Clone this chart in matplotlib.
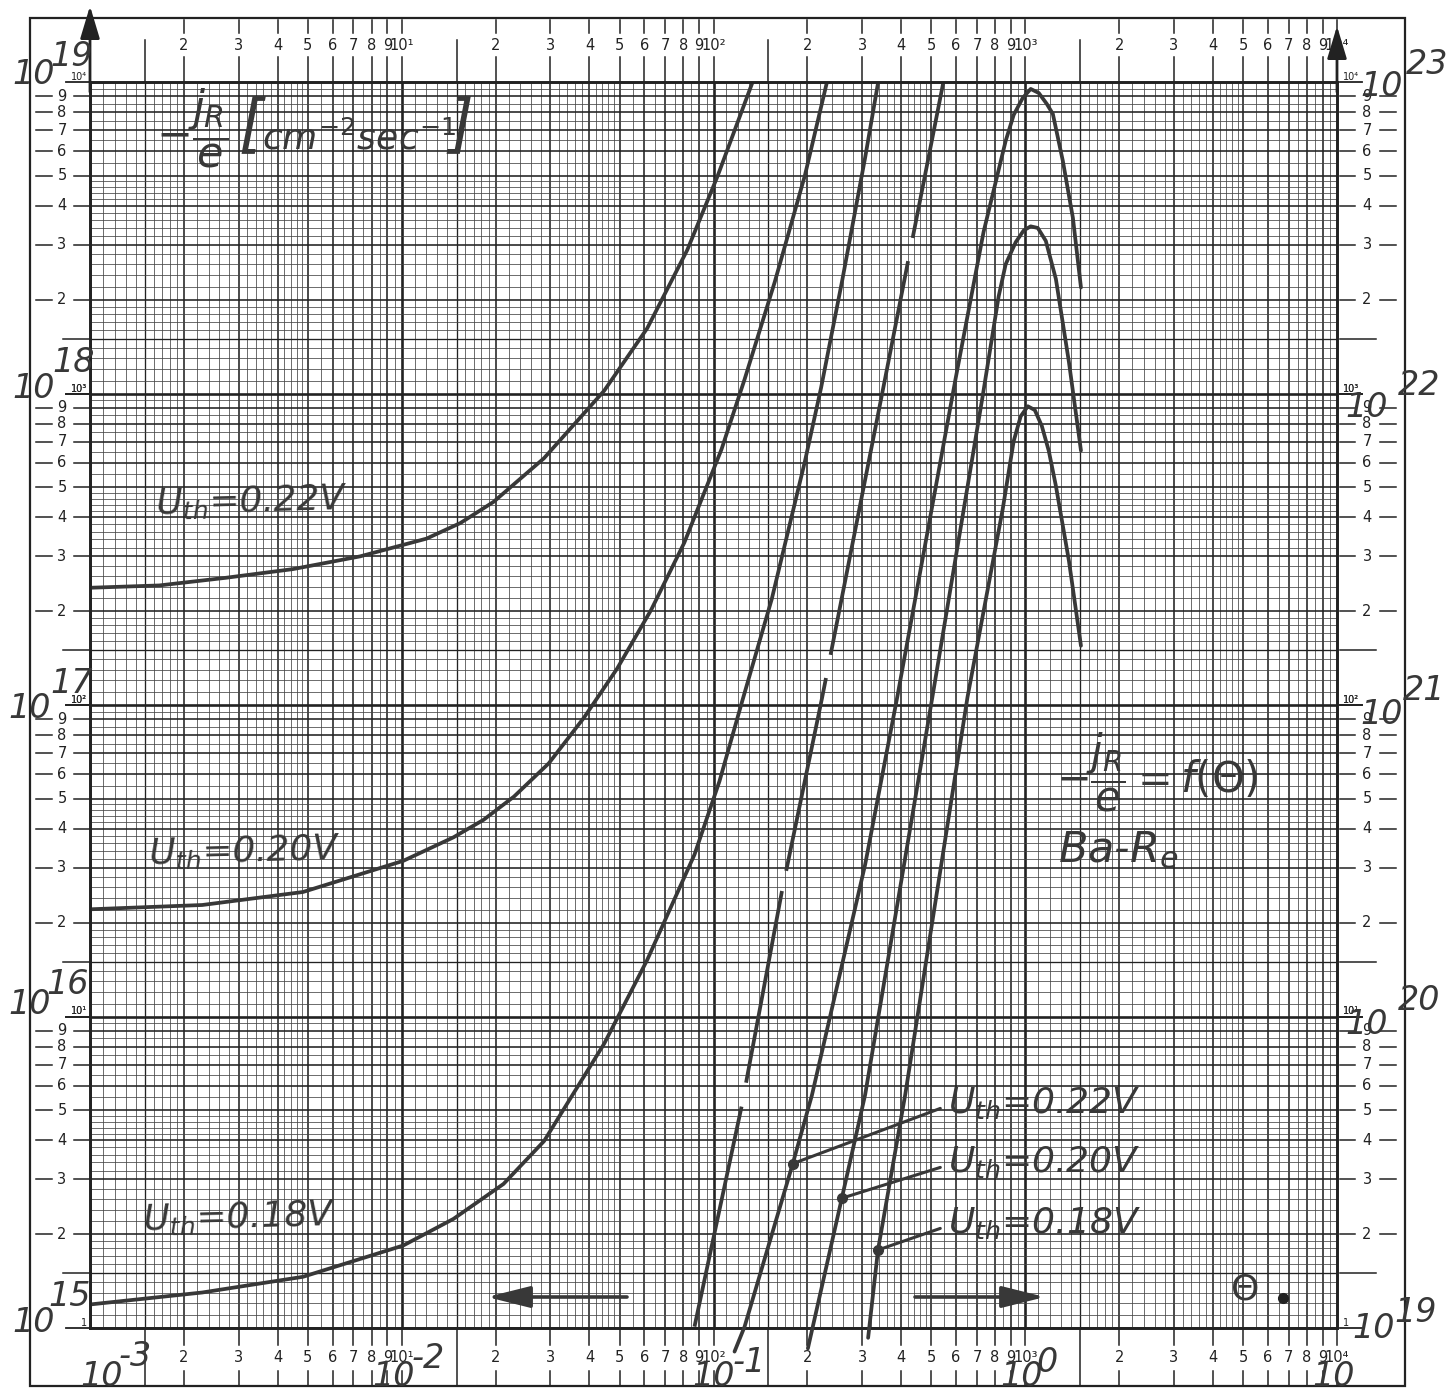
import numpy as np
import matplotlib.pyplot as plt
from matplotlib.patches import Rectangle
from matplotlib.transforms import blended_transform_factory as blend

plt.rcParams['font.family'] = ['DejaVu Sans']
plt.rcParams['mathtext.fontset'] = 'dejavusans'

# left-hand family, read against the left scale (1e15 .. 1e19)
theta_l22 = [1.015e-3, 1.668e-3, 2.72e-3, 4.47e-3, 7.35e-3, 1.20e-2, 1.543e-2, 1.971e-2, 2.856e-2, 4.457e-2,
             6.13e-2, 8.24e-2, 0.103, 0.1335]
jr_l22 = [2.38e17, 2.42e17, 2.56e17, 2.73e17, 3.0e17, 3.42e17, 3.84e17, 4.49e17, 6.19e17, 1.02e18,
          1.62e18, 2.89e18, 4.98e18, 1.0e19]

theta_l20 = [1.015e-3, 2.29e-3, 4.82e-3, 1.011e-2, 1.465e-2, 1.83e-2, 2.29e-2, 2.963e-2, 3.84e-2, 4.91e-2,
             6.31e-2, 8.06e-2, 0.1061, 0.1258, 0.1572, 0.1964, 0.2312]
jr_l20 = [2.21e16, 2.28e16, 2.51e16, 3.16e16, 3.76e16, 4.28e16, 5.08e16, 6.5e16, 9.1e16, 1.31e17,
          2.02e17, 3.32e17, 6.62e17, 1.11e18, 2.28e18, 5.01e18, 1.0e19]

theta_l18 = [1.0e-3, 2.29e-3, 4.82e-3, 1.011e-2, 1.465e-2, 2.12e-2, 2.86e-2, 4.46e-2, 6.13e-2, 8.69e-2,
             0.1045, 0.124, 0.1538, 0.1964, 0.2212, 0.2584, 0.3064, 0.3375]
jr_l18 = [1.19e15, 1.30e15, 1.46e15, 1.84e15, 2.24e15, 2.90e15, 3.98e15, 8.18e15, 1.52e16, 3.31e16,
          5.69e16, 1.04e17, 2.19e17, 6.05e17, 1.04e18, 2.29e18, 5.71e18, 1.0e19]

# straight broken line (left scale)
theta_dash = [0.0869, 0.1231, 0.1656, 0.2228, 0.3554, 0.4215, 0.5463]
jr_dash = [1.01e15, 5.15e15, 2.51e16, 1.05e17, 1.12e18, 2.68e18, 1.0e19]

# right-hand family, read against the right scale (1e19 .. 1e23)
theta_r22 = [0.1168, 0.1258, 0.1796, 0.2068, 0.3064, 0.3885, 0.5972, 0.735, 0.8654, 0.918, 0.9817, 1.041,
             1.105, 1.173, 1.226, 1.32, 1.422, 1.509]
jr_r22 = [8.4e18, 1.01e19, 3.37e19, 5.58e19, 3.07e20, 1.06e21, 1.11e22, 3.3e22, 6.47e22, 7.84e22, 8.89e22, 9.5e22,
          9.22e22, 8.5e22, 7.9e22, 5.58e22, 3.66e22, 2.19e22]

theta_r20 = [0.2008, 0.258, 0.3064, 0.5036, 0.7295, 0.8216, 0.8654, 0.932, 0.989, 1.041, 1.097, 1.164, 1.254,
             1.381, 1.509]
jr_r20 = [8.6e18, 2.61e19, 5.6e19, 1.06e21, 9.76e21, 2.05e22, 2.60e22, 3.06e22, 3.34e22, 3.44e22, 3.40e22,
          3.09e22, 2.33e22, 1.26e22, 6.56e21]

theta_r18 = [0.3133, 0.337, 0.4122, 0.6528, 0.8462, 0.918, 0.967, 1.019, 1.073, 1.130, 1.190, 1.254, 1.381, 1.509]
jr_r18 = [9.3e18, 1.78e19, 5.62e19, 1.06e21, 4.24e21, 7.03e21, 8.45e21, 9.10e21, 8.85e21, 7.87e21, 6.54e21,
          5.05e21, 2.9e21, 1.55e21]

# dots where the leader lines meet the right-hand curves
dot_theta = [0.1796, 0.258, 0.337]
dot_jr = [3.37e19, 2.61e19, 1.78e19]
volts = ['0.22', '0.20', '0.18']

steps = [1.5, 2, 3, 4, 5, 6, 7, 8, 9]
fine = np.round(np.r_[np.arange(1.1, 2.0, 0.1), np.arange(2.0, 5.0, 0.2), np.arange(5.0, 10.0, 0.5)], 2)

W, H = 1452, 1395
L, R, T, B = 90, 1337, 82, 1328
ink = '#222222'
pen = '#383838'


def P(x, y):
    return (x / W, 1 - y / H)


fig = plt.figure(figsize=(W / 100, H / 100), dpi=100)
ax = fig.add_axes([L / W, 1 - B / H, (R - L) / W, (B - T) / H])
ax.set_xscale('log')
ax.set_yscale('log')
ax.set_xlim(1e-3, 10)
ax.set_ylim(1e15, 1e19)
axr = ax.twinx()
axr.set_yscale('log')
axr.set_ylim(1e19, 1e23)
for a in (ax, axr):
    a.tick_params(which='both', length=0, labelleft=False, labelbottom=False, labelright=False)
    for s in a.spines.values():
        s.set_linewidth(1.9)
        s.set_color(ink)


def grid_style(m):
    if m == 1.0:
        return 1.9, ink
    if float(m).is_integer():
        return 1.15, ink
    if m == 1.5:
        return 0.95, ink
    return 0.55, '#444444'


# log paper
for d in range(-3, 1):
    for m in np.r_[1.0, fine]:
        lw, c = grid_style(m)
        ax.axvline(m * 10.0 ** d, lw=lw, color=c, zorder=0.5)
for d in range(15, 19):
    for m in np.r_[1.0, fine]:
        lw, c = grid_style(m)
        ax.axhline(m * 10.0 ** d, lw=lw, color=c, zorder=0.5)

# printed scales round the paper
sup = ['1', '10\u00b9', '10\u00b2', '10\u00b3', '10\u2074']
tx = blend(ax.transData, fig.transFigure)
for d in range(-3, 1):
    for m in steps + [10]:
        v = m * 10.0 ** d
        lab = sup[d + 4] if m == 10 else str(m)
        if m == 1.5:
            ax.plot([v, v], [P(0, T)[1], P(0, 40)[1]], color=ink, lw=1.1, transform=tx, clip_on=False)
            ax.plot([v, v], [P(0, B)[1], P(0, 1386)[1]], color=ink, lw=1.1, transform=tx, clip_on=False)
            continue
        for y0, y1 in [(T, 57), (33, 20), (B, 1345), (1371, 1386)]:
            ax.plot([v, v], [P(0, y0)[1], P(0, y1)[1]], color=ink, lw=1.1, transform=tx, clip_on=False)
        ax.text(v, P(0, 45)[1], lab, transform=tx, fontsize=10.5, ha='center', va='center', color=ink)
        ax.text(v, P(0, 1358)[1], lab, transform=tx, fontsize=10.5, ha='center', va='center', color=ink)

for a, decs, xl, xr in [(ax, range(15, 19), (36, 52, 62, 74, 90), None),
                        (axr, range(19, 23), None, (1340, 1355, 1367, 1380, 1396))]:
    ty = blend(fig.transFigure, a.transData)
    xs = xl if xl else xr
    for d in decs:
        for m in steps + [1, 10]:
            v = m * 10.0 ** d
            if m == 1.5:
                x0, x1 = (63, 90) if xl else (1340, 1376)
                a.plot([x0 / W, x1 / W], [v, v], color=ink, lw=1.1, transform=ty, clip_on=False)
            elif m in (1, 10):
                x0, x1 = (66, 90) if xl else (1340, 1362)
                a.plot([x0 / W, x1 / W], [v, v], color=ink, lw=1.3, transform=ty, clip_on=False)
                k = d - decs[0] + (1 if m == 10 else 0)
                a.text((x1 - 3) / W if xl else (x0 + 3) / W, v, sup[k], transform=ty, fontsize=7,
                       ha='right' if xl else 'left', va='bottom', color=ink)
            else:
                a.plot([xs[0] / W, xs[1] / W], [v, v], color=ink, lw=1.1, transform=ty, clip_on=False)
                a.plot([xs[3] / W, xs[4] / W], [v, v], color=ink, lw=1.1, transform=ty, clip_on=False)
                a.text(xs[2] / W, v, str(m), transform=ty, fontsize=10.5, ha='center', va='center', color=ink)

fig.add_artist(Rectangle(P(30, 1386), (1405 - 30) / W, (1386 - 18) / H, fill=False, lw=1.6,
                         edgecolor=ink, transform=fig.transFigure))

# axis arrows
for x, ytop in [(L, 6), (R, 26)]:
    ax.annotate('', xy=P(x, ytop), xytext=P(x, T + 10), xycoords='figure fraction',
                arrowprops=dict(arrowstyle='-|>,head_length=1.0,head_width=0.3', color=ink, lw=2,
                                mutation_scale=20, shrinkA=0, shrinkB=0))

# curves
for th, jr in [(theta_l22, jr_l22), (theta_l20, jr_l20), (theta_l18, jr_l18)]:
    ax.plot(th, jr, color=pen, lw=2.7, zorder=3, solid_capstyle='round', solid_joinstyle='round')
ax.plot(theta_dash, jr_dash, color=pen, lw=2.7, zorder=3,
        dashes=(60, 6.5, 52, 5.5, 52.5, 6.3, 107, 6.3, 100, 6.3))
for th, jr in [(theta_r22, jr_r22), (theta_r20, jr_r20), (theta_r18, jr_r18)]:
    axr.plot(th, jr, color=pen, lw=2.7, zorder=3, clip_on=False, solid_capstyle='round',
             solid_joinstyle='round')
axr.plot(dot_theta, dot_jr, 'o', ms=7, color=pen, zorder=4)


# handwritten lettering
def hand(x, y, s, size, **kw):
    kw.setdefault('va', 'center')
    kw.setdefault('ha', 'left')
    fig.text(x / W, 1 - y / H, s, fontsize=size, style='italic', color=pen, **kw)


for exp, bx, by, ex, ey in [('19', 12, 74, 50, 56), ('18', 12, 388, 52, 362), ('17', 8, 708, 50, 684),
                            ('16', 8, 1004, 46, 984), ('15', 12, 1322, 48, 1296)]:
    hand(bx, by, '10', 24)
    hand(ex, ey, exp, 24)
for exp, bx, by, ex, ey in [('23', 1360, 86, 1406, 64), ('22', 1345, 407, 1398, 385), ('21', 1360, 714, 1403, 690),
                            ('20', 1345, 1024, 1398, 1000), ('19', 1352, 1328, 1394, 1312)]:
    hand(bx, by, '10', 24)
    hand(ex, ey, exp, 24)
for exp, bx, ex, ey in [('-3', 80, 118, 1356), ('-2', 372, 412, 1358), ('-1', 692, 732, 1362),
                        ('0', 1000, 1036, 1362), ('', 1312, 0, 0)]:
    hand(bx, 1376, '10', 24)
    if exp:
        hand(ex, ey, exp, 24)

hand(156, 128, r'$-\dfrac{j_R}{e}$', 31)
hand(238, 126, '[', 46)
hand(262, 150, r'$cm^{-2}sec^{-1}$', 26, va='baseline')
hand(448, 126, ']', 46)
hand(1056, 772, r'$-\dfrac{j_R}{e}=f(\Theta)$', 30)
hand(1058, 862, r'Ba-$R_e$', 31, va='baseline')
hand(1230, 1300, r'$\Theta$', 26, va='baseline')
ax.plot([1283 / W], [1 - 1298 / H], 'o', ms=7, color=ink, transform=fig.transFigure, clip_on=False)

for v, (x, y) in zip(volts, [(155, 514), (148, 864), (142, 1230)]):
    hand(x, y, r'$U_{th}$=' + v + 'V', 26, va='baseline', rotation=1.5)
for v, th, jr, y in zip(volts, dot_theta, dot_jr, [1113, 1172, 1233]):
    axr.annotate(r'$U_{th}$=' + v + 'V', xy=(th, jr), xytext=P(948, y), textcoords='figure fraction',
                 fontsize=26, style='italic', color=pen, ha='left', va='baseline',
                 arrowprops=dict(arrowstyle='-', color=pen, lw=2.2, shrinkA=0, shrinkB=0, relpos=(-0.04, 0.35)))

# direction arrows under the curves
for x0, x1 in [(627, 487), (915, 1045)]:
    ax.annotate('', xy=P(x1, 1297), xytext=P(x0, 1297), xycoords='figure fraction',
                arrowprops=dict(arrowstyle='-|>,head_length=1.2,head_width=0.3', color=pen, lw=2.6,
                                mutation_scale=22, shrinkA=0, shrinkB=0))

fig.savefig('out.png', dpi=100, facecolor='white')
